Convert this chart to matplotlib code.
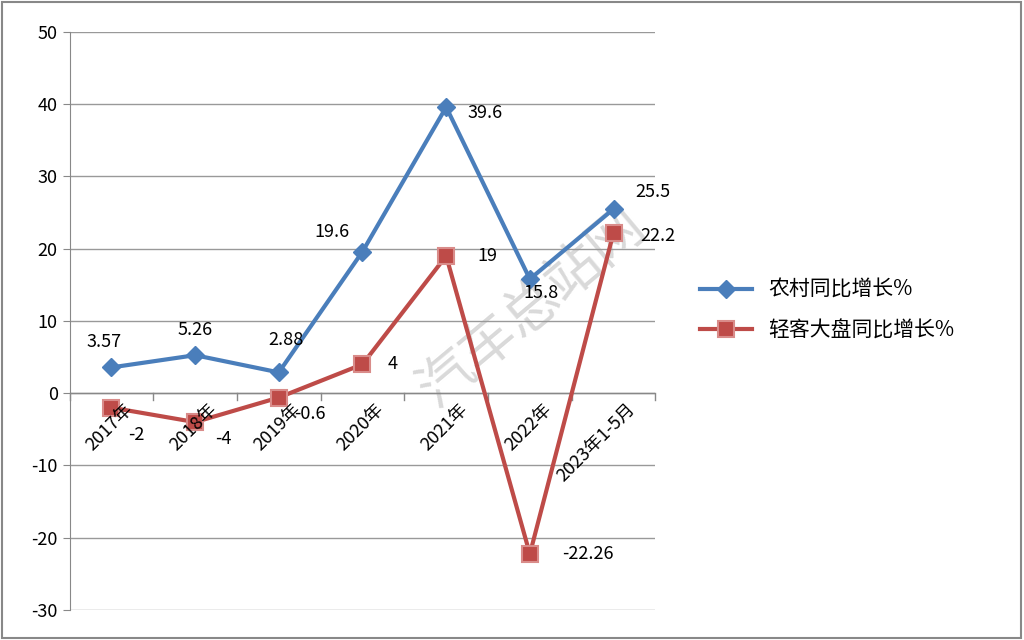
import matplotlib
matplotlib.use('Agg')
import matplotlib.pyplot as plt

plt.rcParams['font.family'] = ['Noto Sans CJK SC', 'DejaVu Sans']
plt.rcParams['axes.unicode_minus'] = False

categories = ['2017年', '2018年', '2019年', '2020年', '2021年', '2022年', '2023年1-5月']
rural = [3.57, 5.26, 2.88, 19.6, 39.6, 15.8, 25.5]
overall = [-2, -4, -0.6, 4, 19, -22.26, 22.2]
rural_labels = ['3.57', '5.26', '2.88', '19.6', '39.6', '15.8', '25.5']
overall_labels = ['-2', '-4', '-0.6', '4', '19', '-22.26', '22.2']

fig = plt.figure(figsize=(10.24, 6.4), dpi=100)
ax = fig.add_axes([0.068, 0.047, 0.572, 0.903])
x = list(range(len(categories)))

ax.plot(x, rural, color='#4a7ebb', lw=3, marker='D', ms=9, label='农村同比增长%', zorder=3)
ax.plot(x, overall, color='#be4b48', lw=3, marker='s', ms=11, mfc='#be4b48',
        mec='#d98c8a', mew=1.5, label='轻客大盘同比增长%', zorder=3)

r_off = [(-5, 18), (0, 18), (5, 23), (-22, 14), (28, -4), (8, -10), (28, 12)]
o_off = [(18, -20), (20, -12), (22, -12), (22, 0), (30, 0), (42, 0), (32, -2)]
for i in x:
    ax.annotate(rural_labels[i], (i, rural[i]), xytext=r_off[i], textcoords='offset points',
                ha='center', va='center', fontsize=13, zorder=4)
    ax.annotate(overall_labels[i], (i, overall[i]), xytext=o_off[i], textcoords='offset points',
                ha='center', va='center', fontsize=13, zorder=4)

for i, c in enumerate(categories):
    ax.text(i + 0.15, -1.0, c, rotation=45, ha='right', va='top', fontsize=13,
            rotation_mode='anchor', zorder=4)

ax.set_xlim(-0.5, 6.5)
ax.set_ylim(-30, 50)
ax.set_yticks(range(-30, 51, 10))
ax.tick_params(axis='y', labelsize=13, length=5, color='#888888')
ax.set_xticks([])
ax.grid(axis='y', color='#999999', lw=1)
ax.axhline(0, color='#888888', lw=1)
for i in range(8):
    ax.plot([i - 0.5, i - 0.5], [0, -1], color='#888888', lw=1, clip_on=False)
for s in ['top', 'right', 'bottom']:
    ax.spines[s].set_visible(False)
ax.spines['left'].set_color('#888888')

fig.legend(loc='center left', bbox_to_anchor=(0.665, 0.515), frameon=False,
           fontsize=15, handlelength=2.5, labelspacing=0.9)

ax.text(0.52, 0.52, '汽车总站网', rotation=40, fontsize=40, color='#d0d0d0',
        alpha=0.8, ha='center', va='center', zorder=1, transform=fig.transFigure,
        clip_on=False)

fig.patches.append(plt.Rectangle((0.002, 0.003), 0.995, 0.994, transform=fig.transFigure,
                                 fill=False, ec='#888888', lw=1.5))
fig.savefig('out.png', dpi=100)
